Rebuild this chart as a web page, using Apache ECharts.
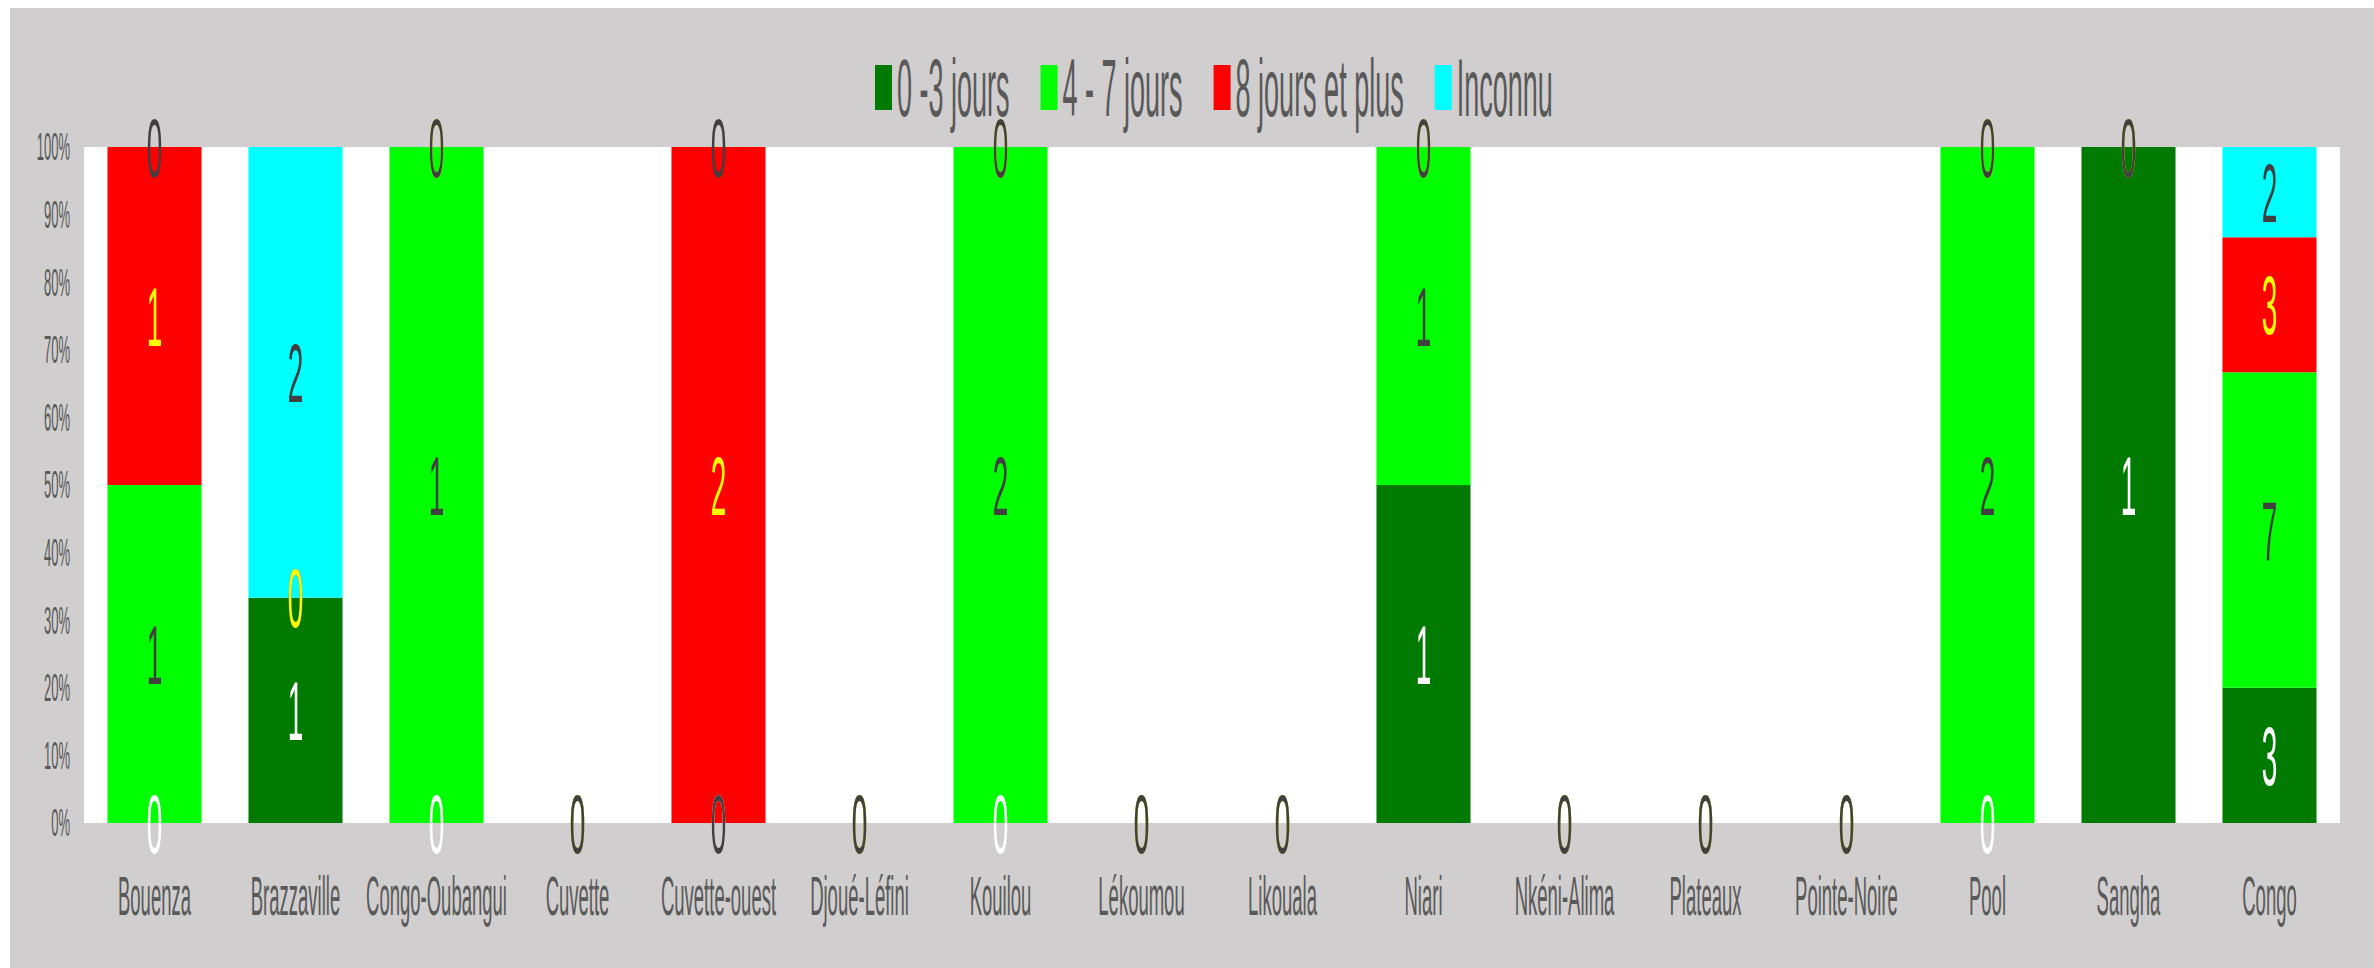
<!DOCTYPE html>
<html>
<head>
<meta charset="utf-8">
<script src="https://cdn.jsdelivr.net/npm/echarts@6/dist/echarts.min.js"></script>
<style>
  html, body { margin: 0; padding: 0; background: #FFFFFF; }
  #page { position: relative; width: 2374px; height: 968px; overflow: hidden; background: #FFFFFF; }
  #chart { position: absolute; left: 10px; top: 8px; width: 2364px; height: 320px;
           transform: scaleY(3); transform-origin: 0 0; }
</style>
</head>
<body>
<div id="page"><div id="chart"></div></div>
<script>
const categories = ['Bouenza','Brazzaville','Congo-Oubangui','Cuvette','Cuvette-ouest','Djoué-Léfini','Kouilou','Lékoumou','Likouala','Niari','Nkéni-Alima','Plateaux','Pointe-Noire','Pool','Sangha','Congo'];
const seriesNames = ['0 -3 jours','4 - 7 jours','8 jours et plus','Inconnu'];
const jours0_3   = [0,1,0,0,0,0,0,0,0,1,0,0,0,0,1,3];
const jours4_7   = [1,0,1,0,0,0,2,0,0,1,0,0,0,2,0,7];
const jours8plus = [1,0,0,0,2,0,0,0,0,0,0,0,0,0,0,3];
const inconnu    = [0,2,0,0,0,0,0,0,0,0,0,0,0,0,0,2];
const barColors   = ['#007A00','#00FF00','#FF0000','#00FFFF'];
const labelColors = ['#FFFFFF','#404040','#FFFF00','#404040'];

const counts = [jours0_3, jours4_7, jours8plus, inconnu];
const totals = categories.map((c, i) => counts.reduce((s, arr) => s + arr[i], 0));

const chart = echarts.init(document.getElementById('chart'), null, { renderer: 'svg' });
const FONT = 'Liberation Sans, Arial, sans-serif';

const series = counts.map((arr, k) => ({
  name: seriesNames[k],
  type: 'bar',
  stack: 'total',
  barCategoryGap: '33.3%',
  itemStyle: { color: barColors[k] },
  label: {
    show: true,
    position: 'inside',
    color: labelColors[k],
    fontSize: 28,
    fontFamily: FONT,
    formatter: p => String(p.data.count)
  },
  emphasis: { disabled: true },
  data: arr.map((v, i) => ({ value: totals[i] ? v / totals[i] * 100 : 0, count: v }))
}));

chart.setOption({
  backgroundColor: '#D0CECE',
  animation: false,
  textStyle: { fontFamily: FONT },
  legend: {
    left: 860,
    top: 8,
    icon: 'rect',
    itemWidth: 17,
    itemHeight: 15,
    itemGap: 31,
    textStyle: { fontSize: 27, color: '#595959', fontFamily: FONT },
    data: seriesNames
  },
  grid: {
    left: 74, right: 34, top: 46.33, bottom: 48.33,
    show: true, backgroundColor: '#FFFFFF', borderWidth: 0
  },
  xAxis: {
    type: 'category',
    data: categories,
    axisLine: { show: false },
    axisTick: { show: false },
    axisLabel: { interval: 0, margin: 15, fontSize: 18.5, color: '#595959', fontFamily: FONT }
  },
  yAxis: {
    type: 'value',
    min: 0, max: 100, interval: 10,
    splitLine: { show: false },
    axisLine: { show: false },
    axisTick: { show: false },
    axisLabel: { margin: 14, fontSize: 13, color: '#595959', fontFamily: FONT, formatter: '{value}%' }
  },
  series: series
});
</script>
</body>
</html>
